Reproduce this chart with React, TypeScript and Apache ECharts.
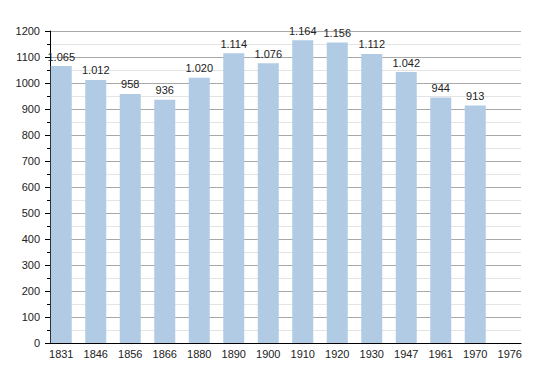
import React, { useEffect, useRef } from "react";
import * as echarts from "echarts";

const years = ["1831", "1846", "1856", "1866", "1880", "1890", "1900", "1910", "1920", "1930", "1947", "1961", "1970", "1976"];
const population: (number | null)[] = [1065, 1012, 958, 936, 1020, 1114, 1076, 1164, 1156, 1112, 1042, 944, 913, null];
const yTicks = { min: 0, max: 1200, interval: 100 };

const fmt = (v: number) => {
  const s = String(v);
  return s.length > 3 ? s.slice(0, s.length - 3) + "." + s.slice(s.length - 3) : s;
};

export default function App() {
  const ref = useRef<HTMLDivElement>(null);
  useEffect(() => {
    if (!ref.current) return;
    const chart = echarts.init(ref.current, undefined, { renderer: "svg" });
    const font = "'Liberation Sans', Arial, sans-serif";
    chart.setOption({
      animation: false,
      backgroundColor: "#ffffff",
      textStyle: { fontFamily: font },
      grid: [
        { left: 50, right: 29, top: 31, bottom: 30 },
        { left: 44, right: 23, top: 31, bottom: 30 },
      ],
      xAxis: [
        {
          gridIndex: 0,
          type: "value",
          min: 0,
          max: 1,
          axisLine: { show: true, lineStyle: { color: "#000", width: 1 } },
          axisTick: { show: false },
          axisLabel: { show: false },
          splitLine: { show: false },
        },
        {
          gridIndex: 1,
          type: "category",
          data: years,
          axisLine: { show: false },
          axisTick: { show: false },
          axisLabel: { color: "#222", fontSize: 11, margin: 5, fontFamily: font },
          splitLine: { show: false },
        },
      ],
      yAxis: [
        {
          gridIndex: 0,
          type: "value",
          min: yTicks.min,
          max: yTicks.max,
          interval: yTicks.interval,
          axisLine: { show: true, lineStyle: { color: "#000", width: 1 } },
          axisTick: { show: true, length: 5, lineStyle: { color: "#000" } },
          minorTick: { show: true, splitNumber: 2, length: 3, lineStyle: { color: "#000" } },
          axisLabel: { color: "#222", fontSize: 11, margin: 10, fontFamily: font, formatter: (v: number) => String(v) },
          splitLine: { show: true, lineStyle: { color: "#a8a8a8", width: 1 } },
          minorSplitLine: { show: true, lineStyle: { color: "#e4e4e4", width: 1 } },
        },
        {
          gridIndex: 1,
          type: "value",
          min: yTicks.min,
          max: yTicks.max,
          show: false,
        },
      ],
      series: [
        {
          type: "bar",
          xAxisIndex: 1,
          yAxisIndex: 1,
          data: population,
          barWidth: 21,
          itemStyle: { color: "#b1cbe5" },
          label: {
            show: true,
            position: "top",
            distance: 4,
            color: "#222",
            fontSize: 11,
            fontFamily: font,
            formatter: (p: any) => (p.value == null ? "" : fmt(p.value)),
          },
        },
      ],
    });
    return () => chart.dispose();
  }, []);
  return <div ref={ref} style={{ width: 550, height: 373, marginLeft: -8, marginTop: -8 }} />;
}
